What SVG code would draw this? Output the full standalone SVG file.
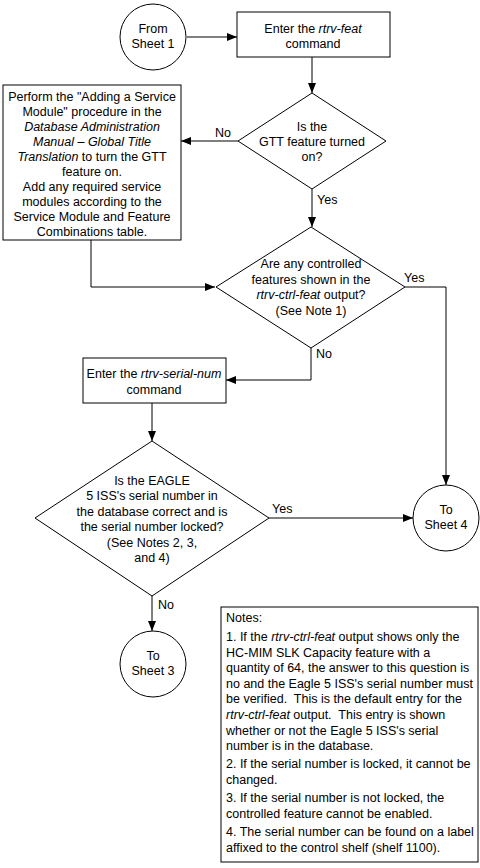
<svg xmlns="http://www.w3.org/2000/svg" width="480" height="868" viewBox="0 0 480 868">
<style>
text{font-family:"Liberation Sans",Arial,sans-serif;font-size:12.5px;fill:#000}
.c{text-anchor:middle}
.p{white-space:pre}
.s{fill:#fff;stroke:#000;stroke-width:1}
.l{fill:none;stroke:#000;stroke-width:1}
</style>
<defs>
<marker id="a" viewBox="0 0 10 8" refX="10" refY="4" markerWidth="10" markerHeight="8" markerUnits="userSpaceOnUse" orient="auto">
<path d="M0,0 L10,4 L0,8 z" fill="#000"/>
</marker>
</defs>
<rect width="480" height="868" fill="#fff"/>
<g id="connectors">
<path class="l" d="M187,37 H237" marker-end="url(#a)"/>
<path class="l" d="M312,57 V93" marker-end="url(#a)"/>
<path class="l" d="M238,141 H181" marker-end="url(#a)"/>
<path class="l" d="M312,189 V227" marker-end="url(#a)"/>
<path class="l" d="M91,240 V287 H215" marker-end="url(#a)"/>
<path class="l" d="M405,287 H446 V485" marker-end="url(#a)"/>
<path class="l" d="M311,348 V380 H226" marker-end="url(#a)"/>
<path class="l" d="M152,403 V441" marker-end="url(#a)"/>
<path class="l" d="M269,518 H413" marker-end="url(#a)"/>
<path class="l" d="M152,596 V631" marker-end="url(#a)"/>
<text x="215" y="137">No</text>
<text x="317" y="204">Yes</text>
<text x="404" y="282">Yes</text>
<text x="316" y="358">No</text>
<text x="272" y="513">Yes</text>
<text x="158" y="609">No</text>
</g>
<g id="from1">
<circle class="s" cx="153" cy="37" r="33"/>
<text class="c" x="153" y="33">From</text>
<text class="c" x="153" y="48">Sheet 1</text>
</g>
<g id="rtrvfeat">
<rect class="s" x="237" y="12" width="153" height="45"/>
<text class="c" x="313" y="33">Enter the <tspan font-style="italic">rtrv-feat</tspan></text>
<text class="c" x="313" y="48">command</text>
</g>
<g id="gttdec">
<path class="s" d="M312,93 L386,141 L312,189 L238,141 Z"/>
<text class="c" x="312" y="131">Is the</text>
<text class="c" x="312" y="146">GTT feature turned</text>
<text class="c" x="312" y="161">on?</text>
</g>
<g id="addsm">
<rect class="s" x="3" y="85" width="178" height="155"/>
<text class="c" x="92" y="101">Perform the "Adding a Service</text>
<text class="c" x="92" y="116">Module" procedure in the</text>
<text class="c" x="92" y="131" font-style="italic">Database Administration</text>
<text class="c" x="92" y="146" font-style="italic">Manual – Global Title</text>
<text class="c" x="92" y="161"><tspan font-style="italic">Translation</tspan> to turn the GTT</text>
<text class="c" x="92" y="176">feature on.</text>
<text class="c" x="92" y="191">Add any required service</text>
<text class="c" x="92" y="206">modules according to the</text>
<text class="c" x="92" y="221">Service Module and Feature</text>
<text class="c" x="92" y="236">Combinations table.</text>
</g>
<g id="ctrldec">
<path class="s" d="M311,227 L405,287 L311,348 L216,287 Z"/>
<text class="c" x="311" y="268">Are any controlled</text>
<text class="c" x="311" y="284">features shown in the</text>
<text class="c" x="311" y="299"><tspan font-style="italic">rtrv-ctrl-feat</tspan> output?</text>
<text class="c" x="311" y="315">(See Note 1)</text>
</g>
<g id="serialnum">
<rect class="s" x="83" y="358" width="143" height="45"/>
<text class="c" x="154" y="378">Enter the <tspan font-style="italic">rtrv-serial-num</tspan></text>
<text class="c" x="154" y="394">command</text>
</g>
<g id="serialdec">
<path class="s" d="M152,441 L269,518 L152,596 L35,518 Z"/>
<text class="c" x="152" y="485">Is the EAGLE</text>
<text class="c" x="152" y="500">5 ISS's serial number in</text>
<text class="c" x="152" y="516">the database correct and is</text>
<text class="c" x="152" y="531">the serial number locked?</text>
<text class="c" x="152" y="547">(See Notes 2, 3,</text>
<text class="c" x="152" y="562">and 4)</text>
</g>
<g id="to4">
<circle class="s" cx="446" cy="518" r="33"/>
<text class="c" x="446" y="514">To</text>
<text class="c" x="446" y="529">Sheet 4</text>
</g>
<g id="to3">
<circle class="s" cx="153" cy="664" r="33"/>
<text class="c" x="153" y="660">To</text>
<text class="c" x="153" y="675">Sheet 3</text>
</g>
<g id="notes">
<rect class="s" x="221" y="607" width="257" height="255"/>
<text x="226" y="622">Notes:</text>
<text x="226" y="641">1. If the <tspan font-style="italic">rtrv-ctrl-feat</tspan> output shows only the</text>
<text x="226" y="656.6">HC-MIM SLK Capacity feature with a</text>
<text x="226" y="672.2">quantity of 64, the answer to this question is</text>
<text x="226" y="687.8">no and the Eagle 5 ISS's serial number must</text>
<text class="p" x="226" y="703.4">be verified.  This is the default entry for the</text>
<text class="p" x="226" y="719"><tspan font-style="italic">rtrv-ctrl-feat</tspan> output.  This entry is shown</text>
<text x="226" y="734.6">whether or not the Eagle 5 ISS's serial</text>
<text x="226" y="750.2">number is in the database.</text>
<text x="226" y="768.3">2. If the serial number is locked, it cannot be</text>
<text x="226" y="783.9">changed.</text>
<text x="226" y="802">3. If the serial number is not locked, the</text>
<text x="226" y="817.6">controlled feature cannot be enabled.</text>
<text x="226" y="836.1">4. The serial number can be found on a label</text>
<text x="226" y="851.7">affixed to the control shelf (shelf 1100).</text>
</g>
</svg>
